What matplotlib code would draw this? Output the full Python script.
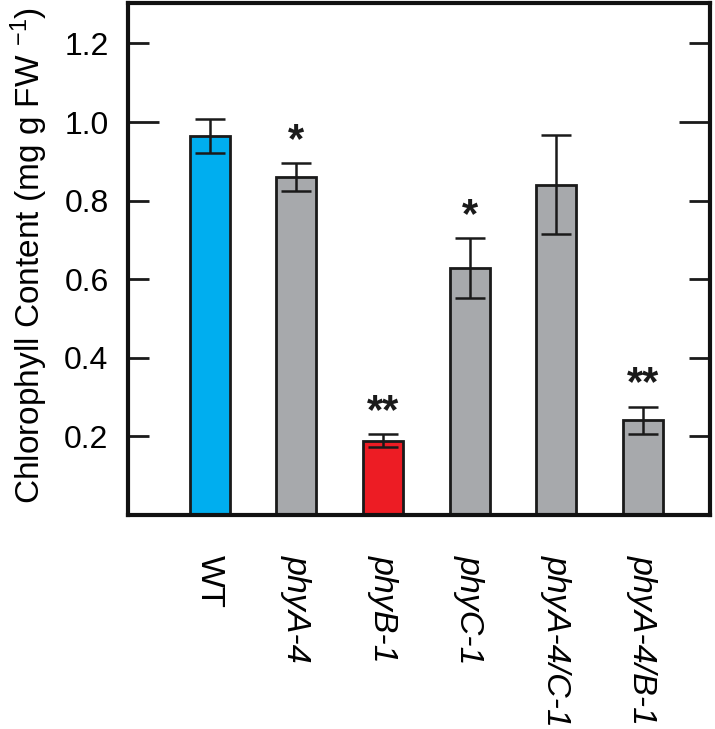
import matplotlib
matplotlib.use('Agg')
import matplotlib.pyplot as plt

plt.rcParams['font.family'] = ['Liberation Sans', 'DejaVu Sans']
plt.rcParams['mathtext.fontset'] = 'custom'
plt.rcParams['mathtext.rm'] = 'Liberation Sans'
plt.rcParams['mathtext.it'] = 'Liberation Sans:italic'

genotypes = ['WT', 'phyA-4', 'phyB-1', 'phyC-1', 'phyA-4/C-1', 'phyA-4/B-1']
chlorophyll = [0.964, 0.860, 0.189, 0.629, 0.840, 0.241]
errors = [0.044, 0.036, 0.016, 0.076, 0.126, 0.035]
signif = ['', '*', '**', '*', '', '**']
colors = ['#00AEEF', '#A7A9AC', '#ED1C24', '#A7A9AC', '#A7A9AC', '#A7A9AC']


def main():
    fig = plt.figure(figsize=(7.15, 7.29), dpi=100)
    ax = fig.add_axes([0.179, 0.2936, 0.814, 0.7023])
    x = list(range(len(genotypes)))
    ax.bar(x, chlorophyll, width=0.46, color=colors, edgecolor='#1a1a1a',
           linewidth=2.0, zorder=2)
    ax.errorbar(x, chlorophyll, yerr=errors, fmt='none', ecolor='#1a1a1a',
                elinewidth=1.8, capsize=11, capthick=1.8, zorder=3)
    for xi, v, e, s in zip(x, chlorophyll, errors, signif):
        if s:
            ax.text(xi, v + e + 0.005, s, ha='center', va='bottom',
                    fontsize=30, fontweight='bold', color='#1a1a1a')

    ax.set_xlim(-0.945, 5.776)
    ax.set_ylim(0, 1.303)
    ax.set_xticks(x)
    ax.set_xticklabels(genotypes, rotation=270, fontsize=24.5, va='top', ha='center')
    for lbl in ax.get_xticklabels()[1:]:
        lbl.set_style('italic')
    ax.tick_params(axis='x', length=0, pad=29)

    # 1.0 gets the longer tick, the rest shorter
    ax.set_yticks([1.0], labels=['1.0'])
    ax.set_yticks([0.2, 0.4, 0.6, 0.8, 1.2],
                  labels=['0.2', '0.4', '0.6', '0.8', '1.2'], minor=True)
    ax.tick_params(axis='y', which='major', direction='in', length=22, width=2,
                   labelsize=23, pad=14, right=True, color='#1a1a1a')
    ax.tick_params(axis='y', which='minor', direction='in', length=15, width=2,
                   labelsize=23, pad=14, right=True, color='#1a1a1a')
    for sp in ax.spines.values():
        sp.set_linewidth(3)
        sp.set_color('#111111')

    ax.set_ylabel(r'Chlorophyll Content (mg g FW $^{-1}$)', fontsize=24)
    ax.yaxis.set_label_coords(-0.134, 0.507)

    fig.savefig('out.png', dpi=100)


if __name__ == '__main__':
    main()
